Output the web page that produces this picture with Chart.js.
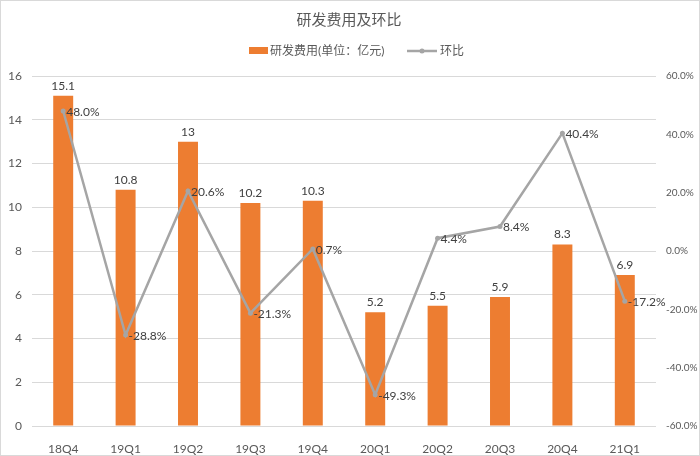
<!DOCTYPE html>
<html>
<head>
<meta charset="utf-8">
<script src="https://cdn.jsdelivr.net/npm/chart.js@4.4.1/dist/chart.umd.min.js"></script>
<style>
    html, body { margin: 0; padding: 0; background: #fff; }
    #wrap { width: 700px; height: 456px; }
</style>
</head>
<body>
<div id="wrap"><canvas id="rdChart" width="700" height="456"></canvas></div>
<script>
// data
const quarters = ['18Q4', '19Q1', '19Q2', '19Q3', '19Q4', '20Q1', '20Q2', '20Q3', '20Q4', '21Q1'];
const rdExpense = [15.1, 10.8, 13, 10.2, 10.3, 5.2, 5.5, 5.9, 8.3, 6.9];
const qoqChange = [48.0, -28.8, 20.6, -21.3, 0.7, -49.3, 4.4, 8.4, 40.4, -17.2];

const titleText = '研发费用及环比';
const barLabel = '研发费用(单位：亿元)';
const lineLabel = '环比';

const FONT = 'Lato, "Noto Sans CJK SC", sans-serif';
const ORANGE = '#ED7D31';
const GREY = '#A5A5A5';
const TEXT = '#595959';

// background, border, title and legend
const frame = {
    id: 'frame',
    beforeDraw(chart) {
        const ctx = chart.ctx;
        ctx.save();
        ctx.fillStyle = '#fff';
        ctx.fillRect(0, 0, chart.width, chart.height);
        ctx.strokeStyle = '#D9D9D9';
        ctx.lineWidth = 1;
        ctx.strokeRect(0.5, 0.5, chart.width - 1, chart.height - 1);
        ctx.restore();
    },
    afterDraw(chart) {
        const ctx = chart.ctx;
        ctx.save();
        ctx.fillStyle = TEXT;
        ctx.textAlign = 'center';
        ctx.textBaseline = 'middle';
        ctx.font = '15px ' + FONT;
        ctx.fillText(titleText, 349, 20);

        // legend
        ctx.font = '12px ' + FONT;
        ctx.textAlign = 'left';
        ctx.fillStyle = ORANGE;
        ctx.fillRect(249, 47, 19, 7);
        ctx.fillStyle = TEXT;
        ctx.fillText(barLabel, 270, 51);
        ctx.strokeStyle = GREY;
        ctx.lineWidth = 2.5;
        ctx.beginPath();
        ctx.moveTo(407, 51);
        ctx.lineTo(437, 51);
        ctx.stroke();
        ctx.fillStyle = GREY;
        ctx.beginPath();
        ctx.arc(422, 51, 2.5, 0, Math.PI * 2);
        ctx.fill();
        ctx.fillStyle = TEXT;
        ctx.fillText(lineLabel, 440, 51);
        ctx.restore();
    }
};

// value labels
const valueLabels = {
    id: 'valueLabels',
    afterDatasetsDraw(chart) {
        const ctx = chart.ctx;
        ctx.save();
        ctx.fillStyle = '#404040';
        ctx.font = '12px ' + FONT;
        chart.data.datasets.forEach((ds, i) => {
            const meta = chart.getDatasetMeta(i);
            meta.data.forEach((el, j) => {
                const v = ds.data[j];
                if (ds.type === 'bar') {
                    ctx.textAlign = 'center';
                    ctx.textBaseline = 'bottom';
                    ctx.fillText(String(v), el.x, el.y - 4);
                } else {
                    ctx.textAlign = 'left';
                    ctx.textBaseline = 'middle';
                    ctx.fillText(v.toFixed(1) + '%', el.x + 3, el.y + 1);
                }
            });
        });
        ctx.restore();
    }
};

const ctx = document.getElementById('rdChart').getContext('2d');
const rdChart = new Chart(ctx, {
    data: {
        labels: quarters,
        datasets: [{
            type: 'bar',
            label: barLabel,
            data: rdExpense,
            backgroundColor: ORANGE,
            yAxisID: 'y',
            barPercentage: 0.32,
            categoryPercentage: 1,
            order: 2
        }, {
            type: 'line',
            label: lineLabel,
            data: qoqChange,
            borderColor: GREY,
            backgroundColor: GREY,
            borderWidth: 2.5,
            pointRadius: 2.5,
            pointBackgroundColor: GREY,
            pointBorderWidth: 0,
            tension: 0,
            yAxisID: 'y1',
            order: 1
        }]
    },
    options: {
        responsive: false,
        animation: false,
        layout: { padding: { top: 76, left: 0, right: 0, bottom: 0 } },
        plugins: {
            legend: { display: false },
            title: { display: false },
            tooltip: { enabled: false }
        },
        scales: {
            x: {
                grid: { display: false },
                border: { display: false },
                ticks: { color: TEXT, font: { family: FONT, size: 12 }, padding: 8 },
                afterFit(scale) { scale.height = 30; }
            },
            y: {
                position: 'left',
                min: 0,
                max: 16,
                ticks: { stepSize: 2, color: TEXT, font: { family: FONT, size: 12 }, padding: 10 },
                grid: { color: '#D9D9D9', drawTicks: false },
                border: { display: false },
                afterFit(scale) { scale.width = 32; }
            },
            y1: {
                position: 'right',
                min: -60,
                max: 60,
                ticks: {
                    stepSize: 20,
                    color: TEXT,
                    font: { family: FONT, size: 10 },
                    padding: 10,
                    callback: v => v.toFixed(1) + '%'
                },
                grid: { display: false, drawTicks: false },
                border: { display: false },
                afterFit(scale) { scale.width = 44; }
            }
        }
    },
    plugins: [frame, valueLabels]
});
</script>
</body>
</html>
